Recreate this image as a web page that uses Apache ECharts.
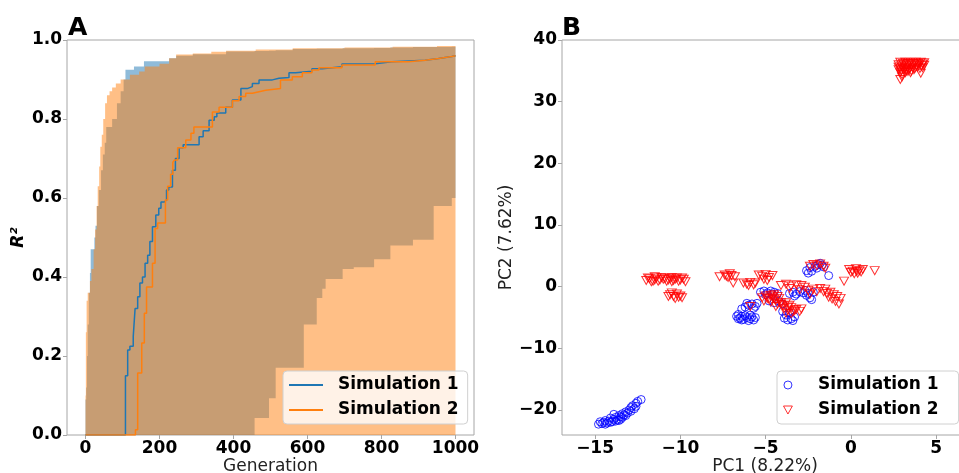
<!DOCTYPE html>
<html><head><meta charset="utf-8">
<script src="https://cdn.jsdelivr.net/npm/echarts@6/dist/echarts.min.js"></script>
<style>html,body{margin:0;padding:0;background:#fff}#c{width:959px;height:473px}</style>
</head><body><div id="c"></div>
<script>
// ---------- Panel A data (step curves, generation vs R^2) ----------
const genTicks = [0, 200, 400, 600, 800, 1000];
const s1BandGen  = [0,2,4,6,9,12,14,24,27,31,36,42,47,52,56,72,85,95,103,108,131,158,226,245,290,380,457,496,514,560,590,625,640,649,695,725,780,824,885,941,990,1000];
const s1BandLow  = [0,0,0,0,0,0,0,0,0,0,0,0,0,0,0,0,0,0,0,0,0,0,0,0,0,0,0.043,0.093,0.17,0.17,0.28,0.347,0.37,0.395,0.42,0.425,0.445,0.48,0.494,0.58,0.60,0.60];
const s1BandHigh = [0.09,0.12,0.20,0.28,0.36,0.41,0.47,0.50,0.53,0.58,0.62,0.67,0.71,0.74,0.78,0.80,0.84,0.87,0.90,0.925,0.933,0.946,0.954,0.960,0.964,0.971,0.972,0.973,0.974,0.977,0.977,0.978,0.978,0.978,0.979,0.979,0.980,0.981,0.982,0.982,0.983,0.983];
const s2BandGen  = [0,1,3,6,12,16,22,26,30,33,37,40,44,48,53,58,65,72,82,95,120,145,160,200,226,245,290,340,380,460,560,700,830,950,1000];
const s2BandLow  = [0,0,0,0,0,0,0,0,0,0,0,0,0,0,0,0,0,0,0,0,0,0,0,0,0,0,0,0,0,0,0,0,0,0,0];
const s2BandHigh = [0.10,0.26,0.34,0.36,0.39,0.42,0.47,0.52,0.58,0.63,0.68,0.73,0.76,0.80,0.84,0.86,0.87,0.88,0.89,0.90,0.912,0.92,0.933,0.94,0.954,0.963,0.966,0.970,0.973,0.976,0.979,0.981,0.983,0.985,0.985];
const s1MedGen = [0,108,114,120,129,134,141,147,154,161,168,174,181,190,198,204,213,219,225,235,243,253,264,307,318,334,348,355,379,397,420,437,451,469,505,523,550,568,612,640,693,739,783,828,873,918,954,990,1000];
const s1Med    = [0,0.15,0.215,0.225,0.249,0.32,0.35,0.385,0.40,0.435,0.455,0.49,0.527,0.557,0.574,0.59,0.595,0.62,0.628,0.67,0.70,0.727,0.735,0.755,0.77,0.797,0.806,0.815,0.83,0.848,0.877,0.882,0.89,0.899,0.903,0.905,0.917,0.921,0.927,0.932,0.939,0.94,0.945,0.947,0.949,0.953,0.958,0.96,0.96];
const s2MedGen = [0,135,141,152,159,165,181,188,195,216,222,230,236,240,249,271,285,293,343,361,397,415,433,451,469,487,527,559,586,612,631,693,783,873,918,954,990,1000];
const s2Med    = [0,0.013,0.157,0.233,0.308,0.375,0.435,0.523,0.537,0.595,0.63,0.66,0.69,0.696,0.727,0.747,0.764,0.78,0.818,0.83,0.846,0.857,0.865,0.869,0.873,0.877,0.899,0.907,0.917,0.924,0.93,0.937,0.945,0.949,0.953,0.958,0.96,0.96];

// ---------- Panel B data (PCA scatter) ----------
const pc1Ticks = [-15, -10, -5, 0, 5];
const pc2Ticks = [-20, -10, 0, 10, 20, 30, 40];
const sim1Points = [
  [-14.8,-22.3],[-14.6,-22.2],[-14.5,-22.0],[-14.3,-22.1],[-14.2,-21.8],[-14.0,-21.9],[-13.9,-21.5],[-13.8,-21.2],[-13.7,-21.6],
  [-13.6,-20.9],[-13.5,-21.1],[-13.4,-20.6],[-13.3,-20.8],[-13.2,-20.3],[-13.1,-20.5],[-13.0,-20.0],[-12.9,-19.6],[-12.8,-19.3],
  [-12.6,-18.9],[-12.5,-18.6],[-12.3,-18.3],[-13.9,-20.7],[-14.1,-21.3],[-13.6,-21.7],[-14.4,-21.7],
  [-14.7,-21.9],[-14.4,-22.3],[-14.1,-22.0],[-13.8,-21.8],[-13.5,-21.5],[-13.4,-21.2],[-13.2,-20.9],[-12.9,-20.2],[-12.7,-19.8],[-12.6,-19.4],
  [-6.7,-4.8],[-6.5,-5.1],[-6.3,-5.3],[-6.1,-5.0],[-5.9,-5.2],[-5.7,-5.4],[-5.6,-5.0],[-6.6,-4.5],[-6.2,-4.7],[-5.8,-4.9],[-6.4,-5.4],
  [-6.6,-5.2],[-6.0,-5.5],[-6.4,-4.8],[-5.9,-4.6],
  [-6.0,-3.0],[-5.8,-2.8],[-5.6,-3.2],[-6.2,-3.3],[-5.5,-2.7],[-6.4,-3.6],[-6.1,-2.7],[-5.7,-3.5],
  [-5.3,-0.9],[-5.1,-0.7],[-4.9,-1.0],[-4.7,-0.7],[-4.5,-0.9],[-4.3,-1.1],[-5.0,-1.3],[-4.6,-1.2],[-4.8,-2.3],[-4.5,-2.6],[-4.2,-2.4],[-4.0,-2.8],
  [-3.9,-5.1],[-3.7,-5.4],[-3.5,-5.2],[-3.3,-4.9],[-3.8,-4.6],[-3.6,-4.2],[-3.4,-5.5],[-4.0,-4.0],
  [-3.6,-1.1],[-3.4,-0.9],[-3.2,-1.2],[-3.0,-0.8],[-2.8,-1.0],[-2.6,-1.4],[-2.4,-1.8],[-2.3,-2.1],[-2.5,-1.1],[-3.3,-1.5],[-2.2,-0.9],[-2.7,-0.6],
  [-2.6,2.6],[-2.5,2.2],[-2.3,2.5],[-2.1,3.3],[-1.9,3.6],[-1.7,3.5],[-2.0,3.0],[-2.4,3.1],[-1.6,3.2],[-1.8,3.8],[-1.3,1.8]
];
const sim2Points = [
  [2.9,36.4],[3.2,36.4],[3.5,36.4],[3.8,36.4],[4.1,36.4],[4.3,36.3],
  [2.8,36.0],[3.1,36.0],[3.4,36.0],[3.7,36.0],[4.0,36.0],[4.3,35.9],
  [2.8,35.6],[3.0,35.6],[3.3,35.6],[3.6,35.6],[3.9,35.6],[4.2,35.5],
  [2.8,35.2],[3.1,35.2],[3.4,35.2],[3.7,35.2],[2.9,34.7],[3.2,34.7],[3.5,34.7],
  [3.05,36.2],[3.35,36.2],[3.65,36.2],[3.95,36.2],[4.2,36.1],
  [2.95,35.8],[3.25,35.8],[3.55,35.8],[3.85,35.8],[4.15,35.8],
  [2.9,35.4],[3.15,35.4],[3.45,35.4],[3.75,35.4],[4.05,35.4],
  [2.95,35.0],[3.25,35.0],[3.55,35.0],[3.0,34.4],[3.35,34.9],
  [2.9,33.6],[3.0,34.0],[4.1,34.6],
  [-12.0,1.0],[-11.8,1.3],[-11.6,0.9],[-11.4,1.4],[-11.2,1.1],[-11.0,1.2],[-10.8,0.9],[-10.6,1.3],[-10.4,1.0],[-10.2,1.4],[-10.0,1.1],[-9.8,1.2],
  [-11.9,1.4],[-11.7,0.8],[-11.5,1.1],[-11.3,0.9],[-11.1,1.5],[-10.9,1.3],[-10.7,1.1],[-10.5,0.8],[-10.3,1.2],[-10.1,0.9],[-9.9,1.4],
  [-11.5,1.6],[-10.5,1.5],[-9.7,0.8],
  [-10.6,-1.3],[-10.4,-1.6],[-10.2,-1.2],[-10.0,-1.5],[-9.9,-1.8],[-10.3,-1.9],[-10.5,-1.0],[-10.1,-1.7],[-10.7,-1.6],
  [-7.7,1.6],[-7.4,1.9],[-7.2,1.5],[-7.0,1.8],[-6.8,1.6],[-7.1,2.1],[-6.9,0.6],[-7.3,1.7],
  [-6.3,0.6],[-6.1,0.4],[-5.9,0.7],[-5.7,0.3],[-5.6,0.6],[-6.0,0.2],[-5.9,-3.2],
  [-5.4,1.9],[-5.2,1.7],[-5.0,2.0],[-4.8,1.5],[-4.6,1.8],[-5.1,1.2],[-4.9,1.0],
  [-5.2,-1.8],[-5.0,-1.5],[-4.8,-2.0],[-4.6,-1.7],[-4.4,-2.2],[-4.2,-1.9],[-5.1,-2.3],[-4.7,-2.5],[-4.5,-1.3],[-4.1,-2.6],
  [-4.9,-1.9],[-4.7,-1.4],[-4.5,-2.0],[-4.3,-1.6],
  [-4.3,-2.8],[-4.0,-3.1],[-3.8,-2.6],[-3.6,-3.0],[-3.5,-3.4],[-3.9,-3.5],[-4.4,-3.2],[-4.1,-2.9],[-3.7,-3.3],
  [-3.7,-3.8],[-3.4,-4.1],[-3.2,-3.7],[-3.0,-4.0],[-2.9,-3.6],[-3.5,-4.4],[-3.8,-4.3],[-3.3,-3.9],
  [-4.1,0.2],[-3.8,0.4],[-3.5,0.1],[-3.2,0.3],[-2.9,0.2],[-2.7,-0.1],[-3.6,-0.3],[-3.0,-0.5],[-2.5,-0.6],[-2.2,-0.4],[-2.0,-0.8],[-1.8,-0.3],[-2.4,-1.2],
  [-1.6,-0.8],[-1.4,-1.1],[-1.2,-0.9],[-1.0,-1.3],[-0.8,-1.6],[-1.1,-2.0],[-0.9,-2.4],[-0.7,-2.8],[-1.3,-1.7],[-0.6,-1.9],[-1.5,-0.4],
  [-2.4,3.3],[-2.2,3.6],[-2.0,3.4],[-1.8,3.7],[-1.6,3.3],[-1.5,3.0],
  [-0.1,2.8],[0.1,2.5],[0.3,2.9],[0.5,2.6],[0.7,2.8],[0.4,2.2],[0.2,2.1],[0.6,2.4],[0.0,2.3],[0.35,2.5],[1.4,2.6],[-0.4,0.9]
];

const FONT = 'DejaVu Sans';
const SPINE = '#a6a6a6';
const tri = 'path://M0,0 L10,0 L5,9 Z';
const zip = (a, b) => a.map((v, i) => [v, b[i]]);
const minus = v => (v < 0 ? '\u2212' + Math.abs(v) : String(v));

const labelStyle = { fontFamily: FONT, fontWeight: 'bold', fontSize: 17, color: '#000' };
const nameStyle = { fontFamily: FONT, fontSize: 17, color: '#222' };

// Band drawn as one stepped polygon (upper edge forward, lower edge backward) via the axis scales.
function bandSeries(gen, low, high, fill, z) {
  return {
    type: 'custom', xAxisIndex: 0, yAxisIndex: 0, silent: true, z: z,
    data: gen.map((g, i) => [g, low[i], high[i]]),
    encode: { x: 0, y: [1, 2] },
    renderItem: function (params, api) {
      if (params.dataIndex !== 0) return null;
      const pts = [];
      for (let i = 0; i < gen.length - 1; i++) {
        pts.push(api.coord([gen[i], high[i]]));
        pts.push(api.coord([gen[i + 1], high[i]]));
      }
      for (let i = gen.length - 2; i >= 0; i--) {
        pts.push(api.coord([gen[i + 1], low[i]]));
        pts.push(api.coord([gen[i], low[i]]));
      }
      return { type: 'polygon', shape: { points: pts }, style: { fill: fill } };
    }
  };
}

const chart = echarts.init(document.getElementById('c'), null, { renderer: 'canvas' });
chart.setOption({
  animation: false,
  backgroundColor: '#fff',
  graphic: [
    { type: 'text', left: 68, top: 16, style: { text: 'A', font: 'bold 25px "DejaVu Sans"', fill: '#000' } },
    { type: 'text', left: 562, top: 16, style: { text: 'B', font: 'bold 25px "DejaVu Sans"', fill: '#000' } }
  ],
  grid: [
    { left: 67, top: 40, right: 485, bottom: 38, outerBoundsMode: 'none', containLabel: false,
      show: true, borderColor: SPINE, borderWidth: 1, backgroundColor: 'transparent' },
    { left: 562, top: 40, right: -9, bottom: 38, outerBoundsMode: 'none', containLabel: false,
      show: true, borderColor: SPINE, borderWidth: 1, backgroundColor: 'transparent' }
  ],
  xAxis: [
    { type: 'value', gridIndex: 0, min: -50, max: 1050,
      axisLine: { show: false, onZero: false }, splitLine: { show: false },
      axisTick: { show: true, customValues: genTicks, length: 4, lineStyle: { color: SPINE } },
      axisLabel: Object.assign({ customValues: genTicks, margin: 5, formatter: v => String(v) }, labelStyle),
      name: 'Generation', nameLocation: 'middle', nameGap: 23, nameMoveOverlap: false, nameTextStyle: nameStyle },
    { type: 'value', gridIndex: 1, min: -16.94, max: 6.87,
      axisLine: { show: false, onZero: false }, splitLine: { show: false },
      axisTick: { show: true, customValues: pc1Ticks, length: 4, lineStyle: { color: SPINE } },
      axisLabel: Object.assign({ customValues: pc1Ticks, margin: 5, formatter: minus }, labelStyle),
      name: 'PC1 (8.22%)', nameLocation: 'middle', nameGap: 23, nameMoveOverlap: false, nameTextStyle: nameStyle }
  ],
  yAxis: [
    { type: 'value', gridIndex: 0, min: 0, max: 1, interval: 0.2,
      axisLine: { show: false, onZero: false }, splitLine: { show: false },
      axisTick: { show: true, length: 4, lineStyle: { color: SPINE } },
      axisLabel: Object.assign({ margin: 5, formatter: v => v.toFixed(1) }, labelStyle),
      name: 'R\u00b2', nameLocation: 'middle', nameGap: 40, nameMoveOverlap: false,
      nameTextStyle: { fontFamily: FONT, fontSize: 17, fontWeight: 'bold', fontStyle: 'italic', color: '#000' } },
    { type: 'value', gridIndex: 1, min: -24.05, max: 40,
      axisLine: { show: false, onZero: false }, splitLine: { show: false },
      axisTick: { show: true, customValues: pc2Ticks, length: 4, lineStyle: { color: SPINE } },
      axisLabel: Object.assign({ customValues: pc2Ticks, margin: 5, formatter: minus }, labelStyle),
      name: 'PC2 (7.62%)', nameLocation: 'middle', nameGap: 47, nameMoveOverlap: false, nameTextStyle: nameStyle }
  ],
  legend: [
    { left: 283, top: 371, orient: 'vertical', selectedMode: false,
      data: [
        { name: 'A: Simulation 1', icon: 'rect', itemStyle: { color: '#1f77b4' } },
        { name: 'A: Simulation 2', icon: 'rect', itemStyle: { color: '#ff7f0e' } }
      ],
      itemWidth: 34, itemHeight: 2, itemGap: 5, padding: [4, 9, 4, 6],
      backgroundColor: 'rgba(255,255,255,0.8)', borderColor: '#d0d0d0', borderWidth: 1, borderRadius: 4,
      formatter: n => n.slice(3),
      textStyle: { fontFamily: FONT, fontWeight: 'bold', fontSize: 17, color: '#000', lineHeight: 20, padding: [0, 0, 0, 10] } },
    { left: 777, top: 371, orient: 'vertical', selectedMode: false,
      data: [
        { name: 'B: Simulation 1', icon: 'circle', itemStyle: { color: 'rgba(0,0,0,0)', borderColor: '#0000ff', borderWidth: 1 } },
        { name: 'B: Simulation 2', icon: tri, itemStyle: { color: 'rgba(0,0,0,0)', borderColor: '#ff0000', borderWidth: 1 } }
      ],
      itemWidth: 34, itemHeight: 8, itemGap: 5, padding: [4, 20, 4, 6],
      backgroundColor: 'rgba(255,255,255,0.8)', borderColor: '#d0d0d0', borderWidth: 1, borderRadius: 4,
      formatter: n => n.slice(3),
      textStyle: { fontFamily: FONT, fontWeight: 'bold', fontSize: 17, color: '#000', lineHeight: 20, padding: [0, 0, 0, 8] } }
  ],
  series: [
    bandSeries(s1BandGen, s1BandLow, s1BandHigh, 'rgba(31,119,180,0.5)', 1),
    bandSeries(s2BandGen, s2BandLow, s2BandHigh, 'rgba(255,127,14,0.5)', 2),
    { name: 'A: Simulation 1', type: 'line', xAxisIndex: 0, yAxisIndex: 0, step: 'end', data: zip(s1MedGen, s1Med),
      symbol: 'none', color: '#1f77b4', lineStyle: { color: '#1f77b4', width: 1.5 }, z: 3, silent: true },
    { name: 'A: Simulation 2', type: 'line', xAxisIndex: 0, yAxisIndex: 0, step: 'end', data: zip(s2MedGen, s2Med),
      symbol: 'none', color: '#ff7f0e', lineStyle: { color: '#ff7f0e', width: 1.5 }, z: 4, silent: true },
    { name: 'B: Simulation 1', type: 'scatter', xAxisIndex: 1, yAxisIndex: 1, data: sim1Points,
      symbol: 'circle', symbolSize: 8, itemStyle: { color: 'rgba(0,0,0,0)', borderColor: '#0000ff', borderWidth: 1 }, silent: true, z: 3 },
    { name: 'B: Simulation 2', type: 'scatter', xAxisIndex: 1, yAxisIndex: 1, data: sim2Points,
      symbol: tri, symbolSize: [9, 8], itemStyle: { color: 'rgba(0,0,0,0)', borderColor: '#ff0000', borderWidth: 1 }, silent: true, z: 4 }
  ]
});
</script>
</body></html>
